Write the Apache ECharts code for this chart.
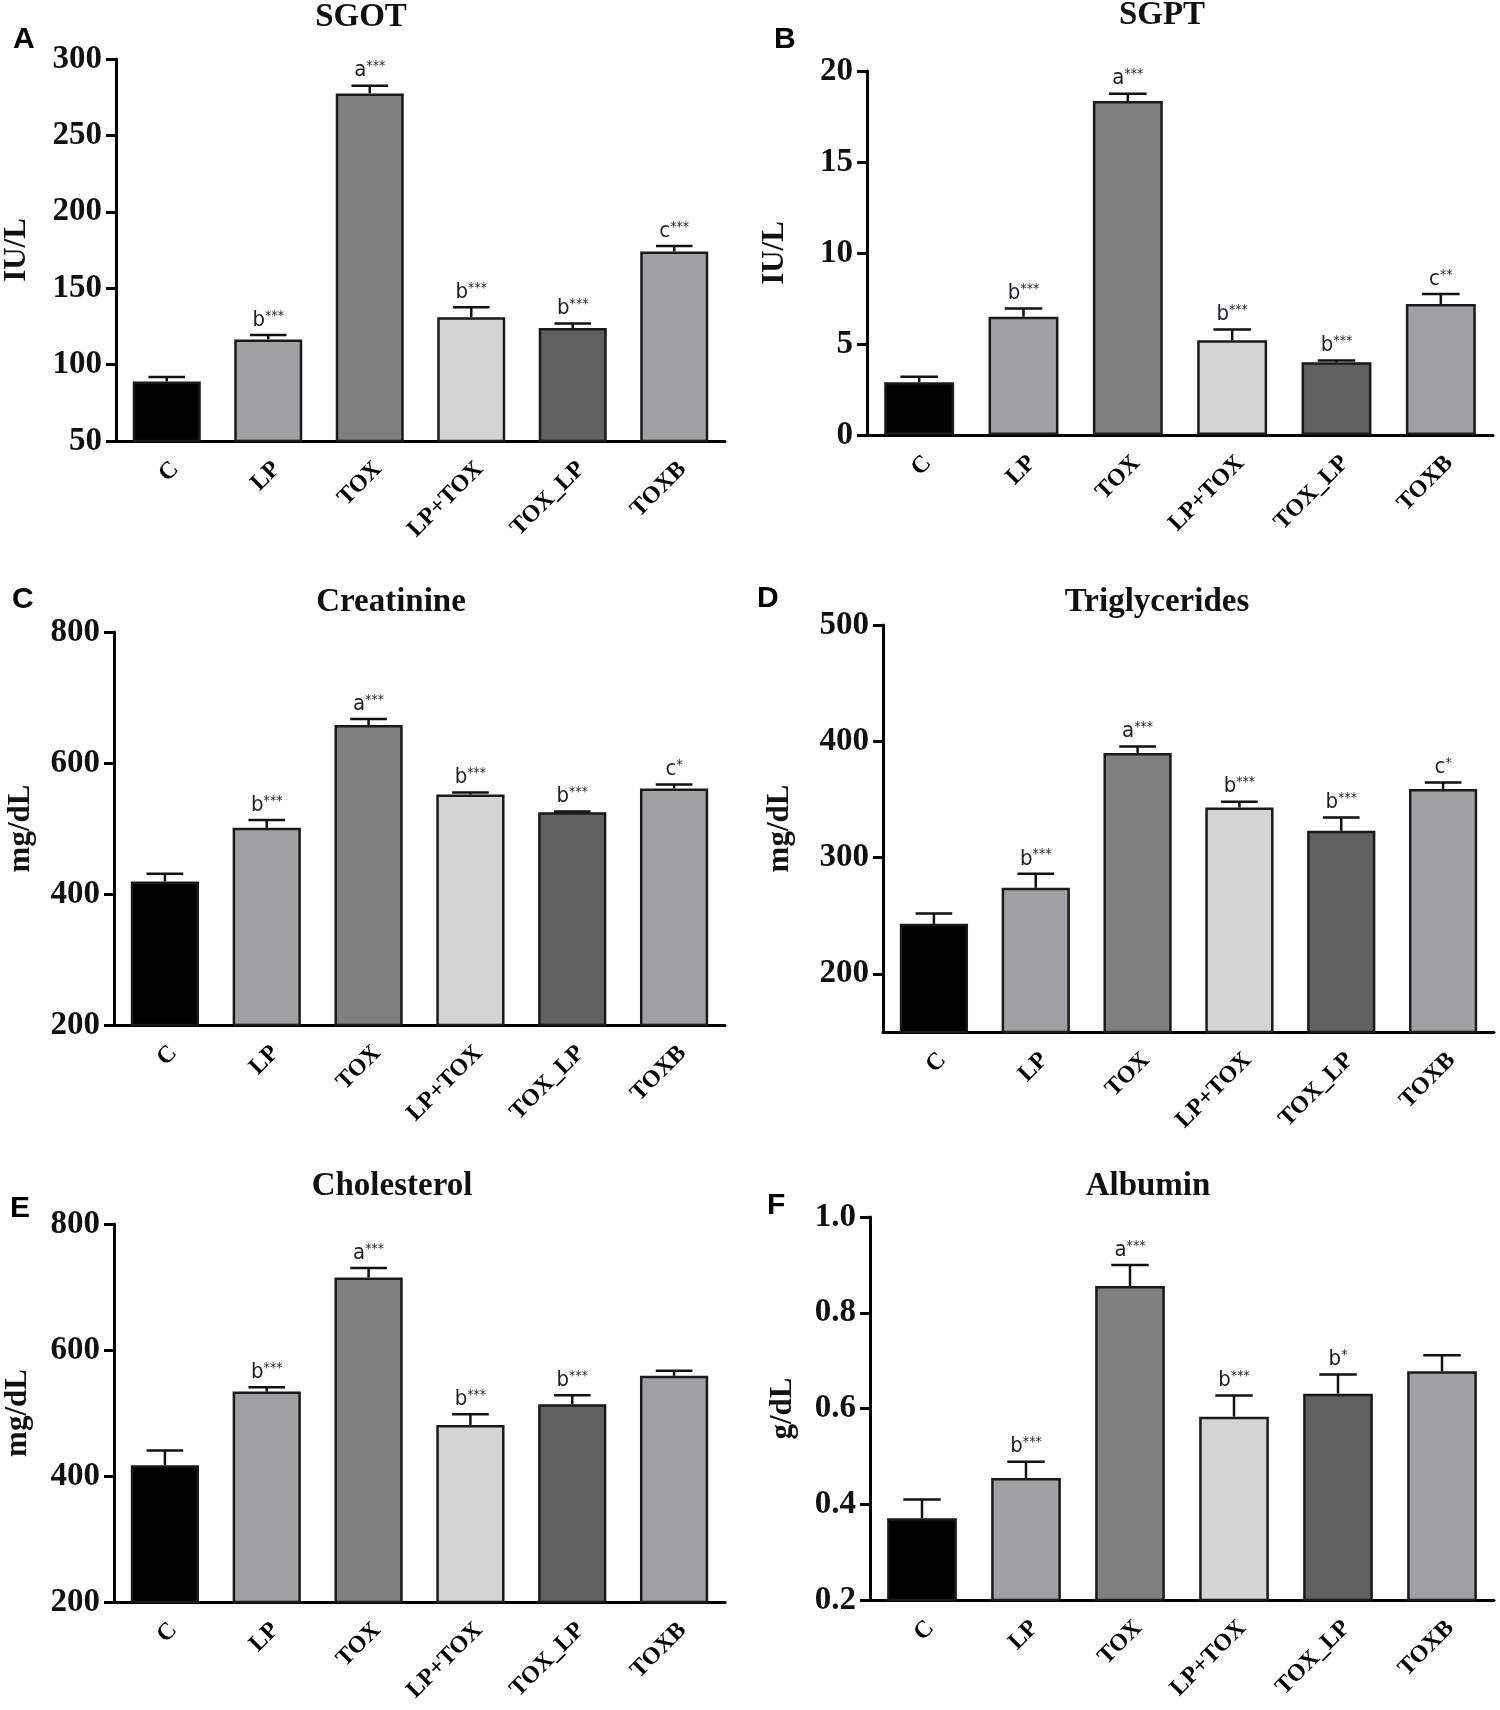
<!DOCTYPE html>
<html>
<head>
<meta charset="utf-8">
<script src="https://cdn.jsdelivr.net/npm/echarts@6/dist/echarts.min.js"></script>
<style>
  html, body { margin: 0; padding: 0; background: #fff; }
  #chart { width: 1500px; height: 1710px; }
</style>
</head>
<body>
<div id="chart"></div>
<script>
// groups on every panel
var categories = ['C', 'LP', 'TOX', 'LP+TOX', 'TOX_LP', 'TOXB']
var barColors = ['#000000', '#a0a0a4', '#808080', '#d4d4d4', '#606060', '#a0a0a4']

// A: SGOT
var sgotMean = [89, 116.5, 277.5, 131, 124, 174]
var sgotErr = [2.9, 2.9, 5, 6.5, 2.9, 3.6]
var sgotSig = ['', 'b***', 'a***', 'b***', 'b***', 'c***']

// B: SGPT
var sgptMean = [2.9, 6.5, 18.35, 5.2, 4.0, 7.2]
var sgptErr = [0.3, 0.45, 0.4, 0.6, 0.1, 0.55]
var sgptSig = ['', 'b***', 'a***', 'b***', 'b***', 'c**']

// C: Creatinine
var creaMean = [419, 501, 658, 552, 525, 561]
var creaErr = [12, 12, 9, 3, 1, 6]
var creaSig = ['', 'b***', 'a***', 'b***', 'b***', 'c*']

// D: Triglycerides
var trigMean = [243, 274, 390, 343, 323, 359]
var trigErr = [9, 12, 5.5, 5, 11.5, 5.5]
var trigSig = ['', 'b***', 'a***', 'b***', 'b***', 'c*']
var trigTicks = [200, 300, 400, 500]

// E: Cholesterol
var cholMean = [417, 534, 715, 481, 514, 559]
var cholErr = [23.5, 7, 15, 17, 14, 8]
var cholSig = ['', 'b***', 'a***', 'b***', 'b***', '']

// F: Albumin
var albMean = [0.371, 0.455, 0.856, 0.583, 0.631, 0.678]
var albErr = [0.039, 0.034, 0.044, 0.044, 0.04, 0.033]
var albSig = ['', 'b***', 'a***', 'b***', 'b*', '']

var serif = '"Liberation Serif", "Times New Roman", serif'
var sans = '"Liberation Sans", Arial, sans-serif'
var narrow = '"Liberation Sans Narrow", "DejaVu Sans Condensed", "Liberation Sans", sans-serif'

var panels = [
	{ letter: 'A', title: 'SGOT', unit: 'IU/L', mean: sgotMean, err: sgotErr, sig: sgotSig,
	  grid: { left: 113, top: 59, width: 612, height: 382 }, min: 50, max: 300, interval: 50, nameGap: 84,
	  titleX: 356, titleY: -4, letterX: 8, letterY: 20 },
	{ letter: 'B', title: 'SGPT', unit: 'IU/L', mean: sgptMean, err: sgptErr, sig: sgptSig,
	  grid: { left: 867, top: 71, width: 626, height: 364 }, min: 0, max: 20, interval: 5, nameGap: 77,
	  titleX: 1157, titleY: -6, letterX: 769, letterY: 20 },
	{ letter: 'C', title: 'Creatinine', unit: 'mg/dL', mean: creaMean, err: creaErr, sig: creaSig,
	  grid: { left: 114, top: 632, width: 611, height: 393 }, min: 200, max: 800, interval: 200, nameGap: 78,
	  titleX: 386, titleY: 581, letterX: 7, letterY: 580 },
	{ letter: 'D', title: 'Triglycerides', unit: 'mg/dL', mean: trigMean, err: trigErr, sig: trigSig,
	  grid: { left: 883, top: 625, width: 611, height: 407 }, min: 150, max: 500, ticks: trigTicks, nameGap: 88,
	  titleX: 1152, titleY: 581, letterX: 752, letterY: 579 },
	{ letter: 'E', title: 'Cholesterol', unit: 'mg/dL', mean: cholMean, err: cholErr, sig: cholSig,
	  grid: { left: 114, top: 1224, width: 611, height: 378 }, min: 200, max: 800, interval: 200, nameGap: 81,
	  titleX: 387, titleY: 1165, letterX: 5, letterY: 1189 },
	{ letter: 'F', title: 'Albumin', unit: 'g/dL', mean: albMean, err: albErr, sig: albSig,
	  grid: { left: 870, top: 1217, width: 624, height: 383 }, min: 0.2, max: 1.0, interval: 0.2, nameGap: 72,
	  titleX: 1143, titleY: 1165, letterX: 762, letterY: 1186, decimals: 1 }
]

function makeErrorRender(sig) {
	return function (params, api) {
		var i = api.value(0)
		var m = api.value(1)
		var e = api.value(2)
		var base = api.coord([i, m])
		var top = api.coord([i, m + e])
		var half = api.size([1, 0])[0] * 0.18
		var children = [
			{ type: 'line', shape: { x1: base[0], y1: base[1], x2: top[0], y2: top[1] },
			  style: { stroke: '#111', lineWidth: 2.5 } },
			{ type: 'line', shape: { x1: top[0] - half, y1: top[1], x2: top[0] + half, y2: top[1] },
			  style: { stroke: '#111', lineWidth: 2.5 } }
		]
		var s = sig[params.dataIndex]
		if (s) {
			children.push({
				type: 'text',
				x: top[0],
				y: top[1] - 4,
				style: {
					text: '{l|' + s.charAt(0) + '}{s|' + s.slice(1) + '}',
					align: 'center',
					verticalAlign: 'bottom',
					rich: {
						l: { fontFamily: narrow, fontSize: 22, fill: '#1c2026', lineHeight: 22, verticalAlign: 'bottom' },
						s: { fontFamily: narrow, fontSize: 14, fill: '#1c2026', lineHeight: 22, verticalAlign: 'top' }
					}
				}
			})
		}
		return { type: 'group', children: children }
	}
}

var grids = []
var xAxes = []
var yAxes = []
var series = []
var titles = []

panels.forEach(function (p, k) {
	grids.push(p.grid)

	titles.push({
		text: p.title, left: p.titleX, top: p.titleY, textAlign: 'center',
		textStyle: { fontFamily: serif, fontWeight: 'bold', fontSize: 33, color: '#111' }
	})
	titles.push({
		text: p.letter, left: p.letterX, top: p.letterY,
		textStyle: { fontFamily: sans, fontWeight: 'bold', fontSize: 30, color: '#000' }
	})

	xAxes.push({
		type: 'category', gridIndex: k, data: categories,
		axisLine: { onZero: false, lineStyle: { color: '#000', width: 3 } },
		axisTick: { alignWithLabel: true, length: 11, lineStyle: { color: '#000', width: 3 } },
		axisLabel: { rotate: 45, margin: 16, interval: 0, color: '#000', verticalAlign: 'top',
			fontFamily: serif, fontWeight: 'bold', fontSize: 24 }
	})

	var y = {
		type: 'value', gridIndex: k, min: p.min, max: p.max,
		name: p.unit, nameLocation: 'middle', nameGap: p.nameGap,
		nameTextStyle: { fontFamily: serif, fontWeight: 'bold', fontSize: 31, color: '#111' },
		splitLine: { show: false },
		axisLine: { show: true, lineStyle: { color: '#000', width: 3 } },
		axisTick: { show: true, length: 10, lineStyle: { color: '#000', width: 3 } },
		axisLabel: { margin: 14, color: '#111', fontFamily: serif, fontWeight: 'bold', fontSize: 33,
			formatter: p.decimals ? function (v) { return v.toFixed(p.decimals) } : '{value}' }
	}
	if (p.ticks) {
		y.axisTick.customValues = p.ticks
		y.axisLabel.customValues = p.ticks
	} else {
		y.interval = p.interval
	}
	yAxes.push(y)

	series.push({
		type: 'bar', xAxisIndex: k, yAxisIndex: k, barCategoryGap: '33%',
		data: p.mean.map(function (v, i) {
			return { value: v, itemStyle: { color: barColors[i] } }
		}),
		itemStyle: { borderColor: '#1a1a1a', borderWidth: 2.5 }
	})

	series.push({
		type: 'custom', xAxisIndex: k, yAxisIndex: k, z: 5,
		renderItem: makeErrorRender(p.sig),
		data: p.mean.map(function (v, i) { return [i, v, p.err[i]] })
	})
})

var chart = echarts.init(document.getElementById('chart'))
chart.setOption({
	backgroundColor: '#fff',
	animation: false,
	title: titles,
	grid: grids,
	xAxis: xAxes,
	yAxis: yAxes,
	series: series
})
</script>
</body>
</html>
